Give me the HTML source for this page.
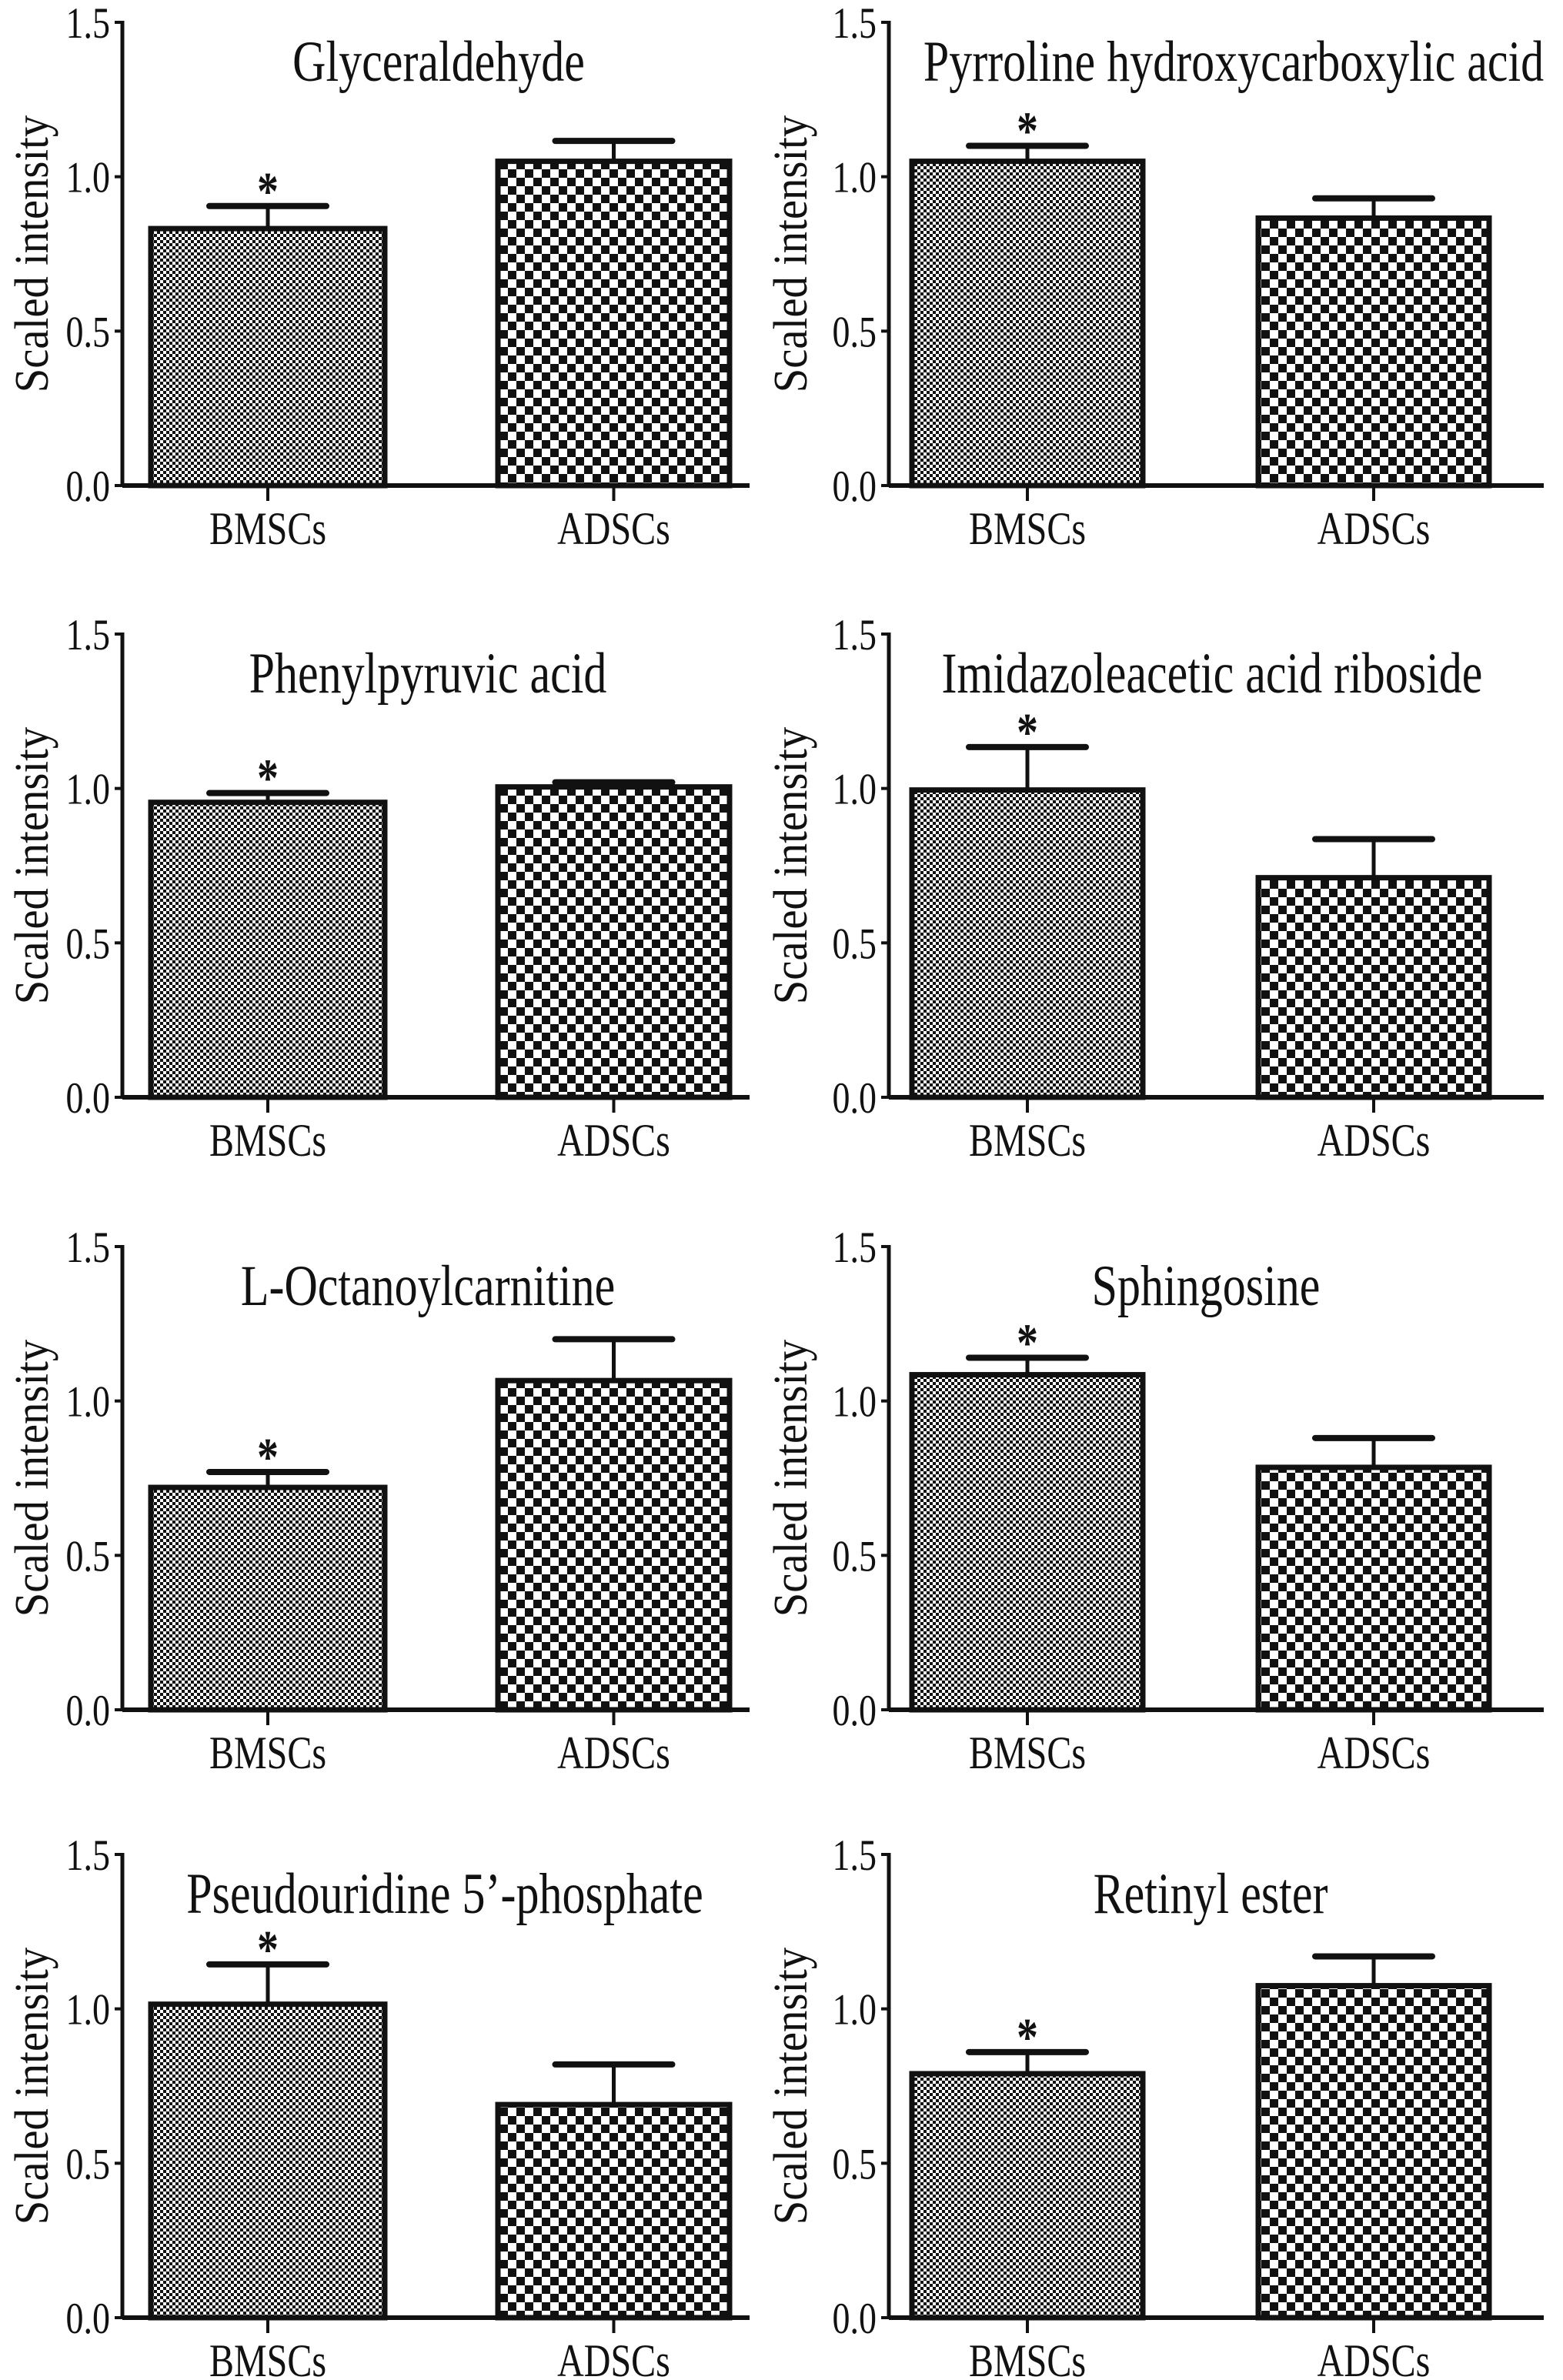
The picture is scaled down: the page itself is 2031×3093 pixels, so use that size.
<!DOCTYPE html>
<html><head><meta charset="utf-8"><style>
html,body{margin:0;padding:0;background:#fff;}
svg{display:block;}
text{font-family:"Liberation Serif",serif;fill:#111;}
</style></head><body>
<svg id="fig" width="2031" height="3093" viewBox="0 0 2031 3093" xmlns="http://www.w3.org/2000/svg">
<defs>
<pattern id="fine" width="8" height="8" patternUnits="userSpaceOnUse">
<rect width="8" height="8" fill="#fff"/><rect width="4" height="4" fill="#111"/><rect x="4" y="4" width="4" height="4" fill="#111"/>
</pattern>
<pattern id="coarse" width="22" height="22" patternUnits="userSpaceOnUse">
<rect width="22" height="22" fill="#fff"/><rect width="11" height="11" fill="#111"/><rect x="11" y="11" width="11" height="11" fill="#111"/>
</pattern>
</defs>
</svg>
<script>
const titles = ["Glyceraldehyde","Pyrroline hydroxycarboxylic acid","Phenylpyruvic acid","Imidazoleacetic acid riboside","L-Octanoylcarnitine","Sphingosine","Pseudouridine 5\u2019-phosphate","Retinyl ester"];
const categories = ["BMSCs","ADSCs"];
const bmscValues = [0.832,1.05,0.955,0.995,0.72,1.085,1.015,0.79];
const bmscErrTop = [0.905,1.10,0.985,1.134,0.77,1.14,1.144,0.86];
const adscValues = [1.05,0.866,1.005,0.711,1.066,0.785,0.69,1.075];
const adscErrTop = [1.116,0.93,1.02,0.836,1.2,0.88,0.82,1.17];
const tickValues = [0,0.5,1.0,1.5];
const tickLabels = ["0.0","0.5","1.0","1.5"];

const NS="http://www.w3.org/2000/svg";
const svg=document.getElementById('fig');
function mk(tag,attrs,parent){const e=document.createElementNS(NS,tag);for(const k in attrs)e.setAttribute(k,attrs[k]);(parent||svg).appendChild(e);return e;}
function stretched(x,y){return `translate(${x},${y}) scale(1,1.25)`;}

const rowZero=[631,1426,2222,3012];
const plotH=602;
const cols=[
 {axis:159,end:974,bars:[[196,500],[647,948]],ylab:44},
 {axis:1155,end:2006,bars:[[1185,1485],[1635,1935]],ylab:1030}
];
const titleXs=[570,1603,556,1575,556,1567,578,1573];

for(let p=0;p<8;p++){
  const row=Math.floor(p/2), c=cols[p%2];
  const y0=rowZero[row];
  const y=v=>y0-v/1.5*plotH;
  const g=mk('g',{});
  
  
  const vals=[bmscValues[p],adscValues[p]], errs=[bmscErrTop[p],adscErrTop[p]], fills=['url(#fine)','url(#coarse)'];
  for(let b=0;b<2;b++){
    const [x1,x2]=c.bars[b], cx=(x1+x2)/2;
    const el=mk('line',{x1:cx,x2:cx,y1:y(vals[b]),y2:y(errs[b]),stroke:'#111','stroke-width':5},g);
    
    
    const cap=mk('line',{x1:cx-76,x2:cx+76,y1:y(errs[b]),y2:y(errs[b]),stroke:'#111','stroke-width':8,'stroke-linecap':'round'},g);
    
    
    const r=mk('rect',{x:x1,y:y(vals[b]),width:x2-x1,height:y0-y(vals[b]),fill:fills[b],stroke:'#111','stroke-width':7},g);
    
    
    const tk=mk('line',{x1:cx,x2:cx,y1:y0,y2:y0+20,stroke:'#111','stroke-width':4},g);
    
    
    const lb=mk('text',{x:0,y:0,'font-size':48,'text-anchor':'middle',transform:stretched(cx,y0+76)},g);
    lb.textContent=categories[b];
    
    
  }
  const bx=(c.bars[0][0]+c.bars[0][1])/2;
  const st=mk('text',{x:0,y:0,'font-size':56,'font-weight':'bold','text-anchor':'middle',transform:stretched(bx,y(bmscErrTop[p])+4)},g);
  st.textContent='*';
  
  
  const ya=mk('line',{x1:c.axis,x2:c.axis,y1:y(1.5)-2,y2:y0+2,stroke:'#111','stroke-width':5},g);
  
  
  const xa=mk('line',{x1:c.axis,x2:c.end,y1:y0,y2:y0,stroke:'#111','stroke-width':6},g);
  
  
  for(let t=0;t<tickValues.length;t++){
    const ty=y(tickValues[t]);
    const tl=mk('line',{x1:c.axis-10,x2:c.axis,y1:ty,y2:ty,stroke:'#111','stroke-width':4},g);
    
    
    const tt=mk('text',{x:0,y:0,'font-size':46,'text-anchor':'end',transform:stretched(c.axis-16,ty+20)},g);
    tt.textContent=tickLabels[t];
    
    
  }
  const yl=mk('text',{x:0,y:0,'font-size':54,'text-anchor':'middle',transform:`translate(${c.ylab+18},${y0-plotH/2}) rotate(-90) scale(1.05,1.15)`},g);
  yl.textContent='Scaled intensity';
  
  
  const ti=mk('text',{x:0,y:0,'font-size':60,'text-anchor':'middle',transform:stretched(titleXs[p],y0-plotH+76)},g);
  ti.textContent=titles[p];
  
  
}
</script>
</body></html>
